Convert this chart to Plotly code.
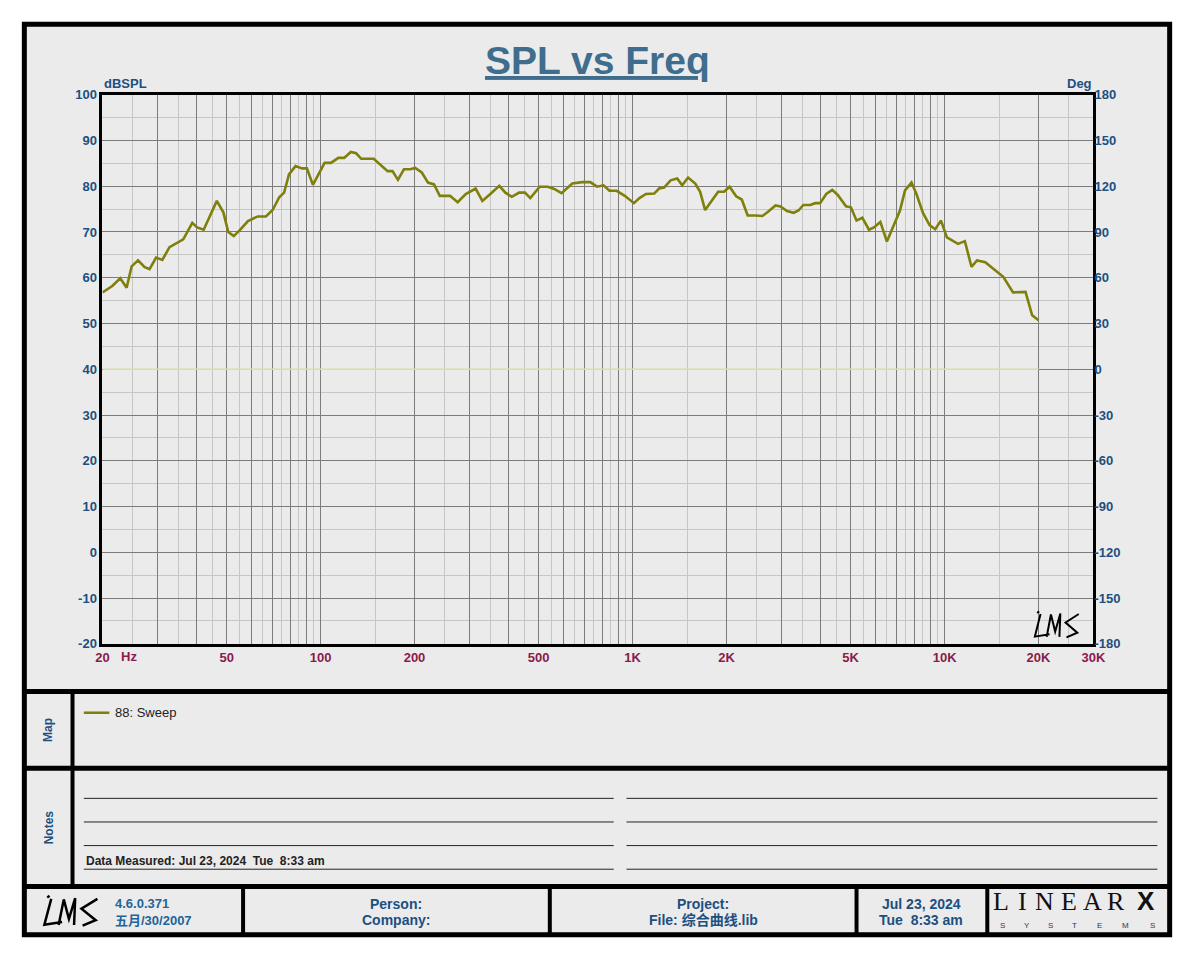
import numpy as np
import plotly.graph_objects as go

# measured sweep
freq_hz = [20, 21.5, 22.8, 23.9, 24.8, 26.0, 27.3, 28.3, 29.7, 31.1,
           32.8, 34.8, 36.3, 38.8, 40.2, 42.2, 46.5, 48.8, 50.6, 52.7,
           55.1, 58.5, 62.9, 66.8, 70.2, 73.7, 76.4, 79.2, 83.1, 87.2,
           90.4, 94.5, 98.4, 103, 108, 114, 119, 125, 130, 135,
           148, 164, 170, 177, 185, 194, 201, 211, 221, 231,
           241, 260, 275, 292, 314, 330, 350, 374, 391, 410,
           433, 452, 470, 504, 535, 561, 592, 641, 689, 732,
           769, 807, 843, 889, 944, 1010, 1052, 1104, 1173, 1216,
           1262, 1324, 1390, 1442, 1506, 1588, 1646, 1708, 1880, 1964,
           2046, 2148, 2238, 2338, 2484, 2606, 2704, 2872, 2978, 3126,
           3282, 3402, 3526, 3710, 3848, 3990, 4176, 4364, 4546, 4830,
           5008, 5220, 5448, 5724, 5936, 6224, 6532, 6936, 7194, 7466,
           7834, 8124, 8530, 8952, 9328, 9740, 10170, 11040, 11614, 12192,
           12706, 13500, 14866, 15418, 16572, 18172, 19080, 20000]
spl_db = [56.8, 58.2, 59.9, 57.8, 62.5, 63.8, 62.3, 61.9, 64.4, 63.9,
          66.7, 67.7, 68.4, 72.0, 71.0, 70.5, 76.8, 74.3, 70.0, 69.1,
          70.4, 72.4, 73.4, 73.4, 74.8, 77.6, 78.6, 82.6, 84.4, 83.9,
          83.9, 80.3, 82.6, 85.1, 85.1, 86.2, 86.2, 87.5, 87.2, 86.0,
          86.0, 83.3, 83.3, 81.4, 83.7, 83.7, 84.0, 83.0, 80.8, 80.4,
          77.9, 77.9, 76.5, 78.3, 79.5, 76.8, 78.3, 80.1, 78.6, 77.7,
          78.6, 78.6, 77.4, 79.9, 79.9, 79.4, 78.5, 80.6, 80.9, 80.9,
          79.9, 80.2, 79.0, 79.0, 77.9, 76.3, 77.4, 78.3, 78.4, 79.5,
          79.7, 81.3, 81.7, 80.2, 81.9, 80.6, 78.8, 74.8, 78.8, 78.8,
          79.9, 77.8, 77.1, 73.6, 73.6, 73.5, 74.3, 75.8, 75.6, 74.6,
          74.2, 74.7, 75.9, 75.9, 76.3, 76.3, 78.3, 79.2, 78.1, 75.6,
          75.4, 72.5, 73.1, 70.5, 71.0, 72.2, 67.9, 72.0, 74.7, 79.1,
          80.8, 78.3, 74.1, 71.5, 70.6, 72.5, 68.8, 67.4, 68.0, 62.4,
          63.8, 63.4, 61.1, 60.2, 56.8, 56.9, 51.8, 50.7]
phase_deg = [0] * len(freq_hz)

# axis ticks
x_major = [20, 30, 40, 50, 60, 70, 80, 90, 100, 200, 300, 400, 500, 600, 700, 800, 900,
           1000, 2000, 3000, 4000, 5000, 6000, 7000, 8000, 9000, 10000, 20000, 30000]
x_minor = [25, 35, 45, 55, 65, 75, 85, 95, 150, 250, 350, 450, 550, 650, 750, 850, 950,
           1500, 2500, 3500, 4500, 5500, 6500, 7500, 8500, 9500, 15000, 25000]
x_labels = {20: "20", 50: "50", 100: "100", 200: "200", 500: "500", 1000: "1K",
            2000: "2K", 5000: "5K", 10000: "10K", 20000: "20K", 30000: "30K"}
y_major = [-20, -10, 0, 10, 20, 30, 40, 50, 60, 70, 80, 90, 100]
y_minor = [-15, -5, 5, 15, 25, 35, 45, 55, 65, 75, 85, 95]
deg_ticks = [-180, -150, -120, -90, -60, -30, 0, 30, 60, 90, 120, 150, 180]

trace_name = "88: Sweep"
notes_text = "Data Measured: Jul 23, 2024  Tue  8:33 am"
footer_cells = [("Person:", "Company:"), ("Project:", "File: 综合曲线.lib"),
                ("Jul 23, 2024", "Tue  8:33 am")]
version_lines = ("4.6.0.371", "五月/30/2007")

# page has an 8px body margin, so the figure is sized to fit the window
OFF = 8
FW, FH = 1184, 944
OLIVE = "#7f7f0c"
BLUE = "#1d4f80"
MAROON = "#8c1a4c"
SANS = "Liberation Sans, Arial, Noto Sans CJK SC"
NARROW = "Liberation Sans Narrow, Arial Narrow, Liberation Sans, Noto Sans CJK SC"


def px(x):
    return (x - OFF) / FW


def py(y):
    return 1 - (y - OFF) / FH


def sig_path(x0, y0, w, h):
    strokes = [
        [(0.10, 0.06), (0.14, 0.0)],
        [(0.17, 0.10), (0.05, 0.95), (0.36, 0.86)],
        [(0.30, 0.96), (0.39, 0.12), (0.48, 0.76), (0.59, 0.08), (0.57, 0.96)],
        [(0.98, 0.10), (0.70, 0.42), (0.95, 0.80), (0.72, 0.98)],
    ]
    parts = []
    for s in strokes:
        for i, (u, v) in enumerate(s):
            parts.append(("M" if i == 0 else "L") + " %.5f %.5f" % (px(x0 + u * w), py(y0 + v * h)))
    return " ".join(parts)


fig = go.Figure()
fig.add_trace(go.Scatter(x=freq_hz, y=phase_deg, yaxis="y2", mode="lines",
                         line=dict(color="#dcdca4", width=1.5), showlegend=False, hoverinfo="skip"))
fig.add_trace(go.Scatter(x=freq_hz, y=spl_db, mode="lines", name=trace_name,
                         line=dict(color=OLIVE, width=2.6), showlegend=False))

shapes = [
    dict(type="rect", xref="paper", yref="paper", x0=px(17), x1=px(1183), y0=py(17), y1=py(943),
         fillcolor="#ebebeb", line=dict(width=0), layer="below"),
    dict(type="rect", xref="paper", yref="paper", x0=px(17.5), x1=px(1182.5), y0=py(17.5), y1=py(942.5),
         line=dict(color="black", width=5)),
]
for yy in [695.5, 773.5, 893.5]:
    shapes.append(dict(type="line", xref="paper", yref="paper", x0=px(17), x1=px(1183), y0=py(yy), y1=py(yy),
                       line=dict(color="black", width=5)))
shapes.append(dict(type="line", xref="paper", yref="paper", x0=px(66.5), x1=px(66.5), y0=py(695), y1=py(893),
                   line=dict(color="black", width=4)))
for xx in [240, 552, 864, 997]:
    shapes.append(dict(type="line", xref="paper", yref="paper", x0=px(xx), x1=px(xx), y0=py(893), y1=py(942),
                       line=dict(color="black", width=4)))
for yy in [804, 828, 852, 876]:
    for a, b in [(78, 617), (630, 1170)]:
        shapes.append(dict(type="line", xref="paper", yref="paper", x0=px(a), x1=px(b), y0=py(yy), y1=py(yy),
                           line=dict(color="#222222", width=1)))
shapes.append(dict(type="line", xref="paper", yref="paper", x0=px(78), x1=px(104), y0=py(717), y1=py(717),
                   line=dict(color=OLIVE, width=2.5)))
shapes.append(dict(type="path", xref="paper", yref="paper", path=sig_path(35, 903, 58, 31),
                   line=dict(color="black", width=2.5)))
shapes.append(dict(type="path", xref="paper", yref="paper", path=sig_path(1043, 614, 48, 27),
                   line=dict(color="black", width=2)))

ann = []


def note(text, x, y, size=13, color=BLUE, family=SANS, xanchor="center", yanchor="middle", angle=0, **kw):
    ann.append(dict(text=text, x=px(x), y=py(y), xref="paper", yref="paper", showarrow=False,
                    xanchor=xanchor, yanchor=yanchor, textangle=angle,
                    font=dict(size=size, color=color, family=family, **kw)))


note("<b>SPL vs Freq</b>", 601, 54, size=39, color="#3e6d8e", lineposition="under")
note("<b>dBSPL</b>", 96, 78, xanchor="left")
note("<b>Deg</b>", 1106, 78, xanchor="right")
note("<b>Hz</b>", 114, 660, color=MAROON, xanchor="left")
note("<b>Map</b>", 42, 734, size=12, angle=-90)
note("<b>Notes</b>", 42, 833, size=12, angle=-90)
note(trace_name, 108, 717, size=13, color="#222222", xanchor="left")
note("<b>" + notes_text + "</b>", 78, 877, size=12, color="#222222", family=NARROW,
     xanchor="left", yanchor="bottom")
note("<b>" + version_lines[0] + "</b>", 108, 911, family=NARROW, color="#22649a", xanchor="left")
note("<b>" + version_lines[1] + "</b>", 108, 928, family=NARROW, color="#22649a", xanchor="left")
for (l1, l2), cx in zip(footer_cells, [396, 708, 930]):
    note("<b>" + l1 + "</b>", cx, 911, size=14, family=NARROW)
    note("<b>" + l2 + "</b>", cx, 928, size=14, family=NARROW)
for ch, cx in zip("LINEAR", [1011, 1033, 1055, 1080, 1104, 1128]):
    note(ch, cx, 912, size=26, color="#111111", family="Liberation Serif, DejaVu Serif",
         yanchor="bottom")
    ann[-1]["y"] = py(926)
note("<b>X</b>", 1158, 926, size=26, color="#111111", family="Liberation Sans, Arial", yanchor="bottom")
for ch, cx in zip("SYSTEMS", [1012, 1037, 1061, 1086, 1111, 1138, 1165]):
    note(ch, cx, 927, size=8, color="#333355", family=SANS, yanchor="top")

fig.update_layout(
    width=FW, height=FH, margin=dict(l=0, r=0, t=0, b=0),
    paper_bgcolor="white", plot_bgcolor="white", showlegend=False,
    shapes=shapes, annotations=ann,
    xaxis=dict(type="log", range=[np.log10(20), np.log10(30000)], domain=[px(97), px(1105)],
               tickmode="array", tickvals=x_major, ticktext=[x_labels.get(v, "") for v in x_major],
               showgrid=True, gridcolor="#7c7c7c", gridwidth=1, zeroline=False,
               showline=True, linecolor="black", linewidth=3, mirror=True, ticks="",
               tickfont=dict(size=13, color=MAROON, family=SANS, weight="bold"),
               minor=dict(tickvals=x_minor, showgrid=True, gridcolor="#c6c6c6", gridwidth=1, ticks=""),
               fixedrange=True),
    yaxis=dict(range=[-20, 100], domain=[py(647), py(89)], tickmode="array", tickvals=y_major,
               ticktext=[str(v) for v in y_major],
               showgrid=True, gridcolor="#7c7c7c", gridwidth=1, zeroline=False,
               showline=True, linecolor="black", linewidth=3, mirror=True, ticks="",
               tickfont=dict(size=13, color=BLUE, family=SANS, weight="bold"),
               minor=dict(tickvals=y_minor, showgrid=True, gridcolor="#c6c6c6", gridwidth=1, ticks=""),
               fixedrange=True),
    yaxis2=dict(range=[-180, 180], overlaying="y", side="right", tickmode="array", tickvals=deg_ticks,
                ticktext=[str(v) for v in deg_ticks],
                showgrid=False, zeroline=False, showline=False, ticks="",
                tickfont=dict(size=13, color=BLUE, family=SANS, weight="bold"), fixedrange=True),
)

fig.write_html("out.html")
